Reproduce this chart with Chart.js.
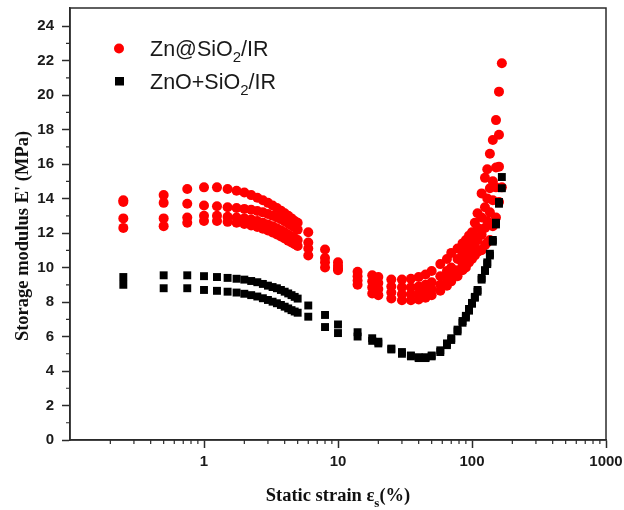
<!DOCTYPE html>
<html>
<head>
<meta charset="utf-8">
<script src="https://cdn.jsdelivr.net/npm/chart.js@4.4.0/dist/chart.umd.min.js"></script>
<style>
  html, body { margin: 0; padding: 0; background: #fff; }
</style>
</head>
<body>
<canvas id="myChart" width="624" height="510"></canvas>
<script>
"use strict";

// static strain (%) steps of the sweep
var strain = [0.25, 0.5, 0.75, 1, 1.25, 1.5, 1.75, 2, 2.25, 2.5, 2.75, 3, 3.25, 3.5, 3.75, 4, 4.25, 4.5, 4.75, 5,
    6, 8, 10, 14, 18, 20, 25, 30, 35, 40, 45, 50, 58, 65, 70, 78, 85, 90, 95, 100,
    105, 110, 118, 125, 130, 136, 143, 151, 159, 167];

// Zn@SiO2/IR, four sweeps (MPa)
var znA = [13.9, 14.2, 14.55, 14.65, 14.65, 14.55, 14.45, 14.35, 14.2, 14.05, 13.9, 13.75, 13.6, 13.45, 13.3, 13.15, 13.0, 12.85, 12.7, 12.6,
    12.05, 11.05, 10.3, 9.75, 9.55, 9.45, 9.3, 9.3, 9.35, 9.45, 9.6, 9.8, 10.2, 10.5, 10.85, 11.1, 11.4, 11.6, 11.85, 12.05,
    12.6, 13.15, 14.3, 15.2, 15.7, 16.6, 17.4, 18.55, 20.2, 21.85];
var znB = [13.8, 13.75, 13.7, 13.6, 13.55, 13.5, 13.45, 13.4, 13.35, 13.28, 13.2, 13.1, 13.0, 12.9, 12.8, 12.68, 12.56, 12.44, 12.32, 12.2,
    11.45, 10.55, 10.1, 9.5, 9.2, 9.1, 8.9, 8.85, 8.85, 8.9, 9.0, 9.15, 9.5, 9.8, 10.0, 10.5, 10.85, 11.0, 11.3, 11.6,
    11.8, 12.3, 12.9, 13.5, 14.0, 14.6, 15.0, 15.8, 17.7, null];
var znC = [12.85, 12.85, 12.9, 13.0, 13.0, 12.95, 12.9, 12.85, 12.78, 12.7, 12.6, 12.5, 12.4, 12.28, 12.16, 12.04, 11.92, 11.8, 11.7, 11.6,
    11.1, 10.3, 9.95, 9.25, 8.85, 8.75, 8.55, 8.45, 8.45, 8.5, 8.6, 8.75, 9.0, 9.3, 9.5, 9.85, 10.2, 10.5, 10.85, 11.0,
    11.3, 11.6, 11.9, 12.3, 12.7, 13.2, 13.9, 14.65, 15.85, null];
var znD = [12.3, 12.4, 12.6, 12.7, 12.7, 12.65, 12.6, 12.52, 12.44, 12.35, 12.25, 12.15, 12.03, 11.92, 11.8, 11.68, 11.56, 11.45, 11.35, 11.25,
    10.7, 10.0, 9.85, 9.0, 8.5, 8.4, 8.2, 8.1, 8.1, 8.15, 8.25, 8.4, 8.65, 8.95, 9.2, 9.5, 9.85, 10.0, 10.3, 10.5,
    10.7, 10.9, 11.0, 11.3, 11.45, 11.6, 12.4, 12.9, 13.8, 14.65];

// ZnO+SiO2/IR, two sweeps (MPa)
var znoA = [9.45, 9.55, 9.55, 9.5, 9.45, 9.4, 9.35, 9.3, 9.22, 9.15, 9.05, 8.95, 8.87, 8.8, 8.7, 8.6, 8.5, 8.4, 8.3, 8.2,
    7.8, 7.25, 6.7, 6.25, 5.9, 5.7, 5.3, 5.1, 4.9, 4.8, 4.8, 4.9, 5.2, 5.6, 5.9, 6.4, 6.9, 7.2, 7.6, 7.95,
    8.3, 8.7, 9.4, 9.85, 10.3, 10.8, 11.6, 12.6, 13.8, 15.25];
var znoB = [9.0, 8.8, 8.8, 8.7, 8.65, 8.6, 8.55, 8.48, 8.4, 8.32, 8.22, 8.12, 8.02, 7.93, 7.83, 7.73, 7.63, 7.53, 7.45, 7.38,
    7.15, 6.55, 6.2, 6.0, 5.75, 5.6, 5.25, 5.0, 4.85, 4.75, 4.75, 4.85, 5.1, 5.5, 5.8, 6.3, 6.8, 7.1, 7.5, 7.9,
    8.25, 8.6, 9.3, 9.8, 10.2, 10.7, 11.5, 12.5, 13.7, 14.6];

var xTicks = [1, 10, 100, 1000];
var xTickLabels = ['1', '10', '100', '1000'];
var yTicks = [0, 2, 4, 6, 8, 10, 12, 14, 16, 18, 20, 22, 24];
var yTickLabels = ['0', '2', '4', '6', '8', '10', '12', '14', '16', '18', '20', '22', '24'];

var legendLabels = [
    [['Zn@SiO', false], ['2', true], ['/IR', false]],
    [['ZnO+SiO', false], ['2', true], ['/IR', false]]
];
var xTitle = [['Static strain \u03b5', false], ['s', true], ['(%)', false]];
var yTitle = "Storage modulus E' (MPa)";

var RED = '#ff0000';
var BLACK = '#000000';
var AXIS = '#2b2b2b';

function points(xs, ys) {
    var out = [];
    for (var i = 0; i < xs.length; i++) {
        if (ys[i] !== null) out.push({ x: xs[i], y: ys[i] });
    }
    return out;
}

function redSet(values) {
    return {
        data: points(strain, values),
        pointStyle: 'circle',
        pointRadius: 5,
        pointBackgroundColor: RED,
        pointBorderColor: RED,
        pointBorderWidth: 0,
        showLine: false,
        order: 2
    };
}

function blackSet(values) {
    return {
        data: points(strain, values),
        pointStyle: 'rect',
        pointRadius: 5.6,
        pointBackgroundColor: BLACK,
        pointBorderColor: BLACK,
        pointBorderWidth: 0,
        showLine: false,
        order: 1
    };
}

// draws text runs, smaller and lowered for subscripts
function drawRuns(ctx, runs, x, y, size, weight, family) {
    ctx.textAlign = 'left';
    ctx.textBaseline = 'alphabetic';
    runs.forEach(function (r) {
        var s = r[1] ? Math.round(size * 0.68) : size;
        ctx.font = weight + ' ' + s + 'px ' + family;
        ctx.fillText(r[0], x, r[1] ? y + size * 0.3 : y);
        x += ctx.measureText(r[0]).width;
    });
}

function runsWidth(ctx, runs, size, weight, family) {
    var w = 0;
    runs.forEach(function (r) {
        var s = r[1] ? Math.round(size * 0.68) : size;
        ctx.font = weight + ' ' + s + 'px ' + family;
        w += ctx.measureText(r[0]).width;
    });
    return w;
}

var decor = {
    id: 'decor',
    afterDraw: function (chart) {
        var ctx = chart.ctx;
        var area = chart.chartArea;
        var xs = chart.scales.x;
        var ys = chart.scales.y;
        ctx.save();

        // frame
        ctx.strokeStyle = AXIS;
        ctx.lineWidth = 1.5;
        ctx.strokeRect(area.left, area.top, area.right - area.left, area.bottom - area.top);

        // minor ticks
        ctx.lineWidth = 1.2;
        ctx.beginPath();
        for (var v = 1; v < 25; v += 2) {
            var py = ys.getPixelForValue(v);
            ctx.moveTo(area.left - 4, py);
            ctx.lineTo(area.left, py);
        }
        [0.1, 1, 10, 100].forEach(function (d) {
            for (var m = 2; m <= 9; m++) {
                var px = xs.getPixelForValue(d * m);
                ctx.moveTo(px, area.bottom);
                ctx.lineTo(px, area.bottom + 4);
            }
        });
        ctx.stroke();

        // axis titles
        ctx.fillStyle = '#111';
        var serif = '"Liberation Serif", "Times New Roman", serif';
        var tw = runsWidth(ctx, xTitle, 18.5, 'bold', serif);
        drawRuns(ctx, xTitle, (area.left + area.right) / 2 - tw / 2, 501, 18.5, 'bold', serif);

        ctx.save();
        ctx.translate(28, 236);
        ctx.rotate(-Math.PI / 2);
        ctx.font = 'bold 18.5px ' + serif;
        ctx.textAlign = 'center';
        ctx.textBaseline = 'alphabetic';
        ctx.fillText(yTitle, 0, 0);
        ctx.restore();

        // legend
        var sans = '"Liberation Sans", Arial, sans-serif';
        ctx.fillStyle = RED;
        ctx.beginPath();
        ctx.arc(119, 48.5, 5, 0, Math.PI * 2);
        ctx.fill();
        ctx.fillStyle = BLACK;
        ctx.fillRect(115, 77, 9, 8.5);
        ctx.fillStyle = '#1a1a1a';
        drawRuns(ctx, legendLabels[0], 150, 56, 21.5, 'normal', sans);
        drawRuns(ctx, legendLabels[1], 150, 89, 21.5, 'normal', sans);

        ctx.restore();
    }
};

var ctx = document.getElementById('myChart');

var myChart = new Chart(ctx, {
    type: 'scatter',
    data: {
        datasets: [blackSet(znoA), blackSet(znoB), redSet(znA), redSet(znB), redSet(znC), redSet(znD)]
    },
    options: {
        responsive: false,
        animation: false,
        events: [],
        layout: { padding: { left: 0, top: 8, right: 18, bottom: 0 } },
        plugins: {
            legend: { display: false },
            tooltip: { enabled: false }
        },
        scales: {
            x: {
                type: 'logarithmic',
                min: 0.1,
                max: 1000,
                afterBuildTicks: function (axis) {
                    axis.ticks = xTicks.map(function (v) { return { value: v, major: true }; });
                },
                afterFit: function (axis) {
                    axis.height = 70;
                    axis.paddingLeft = 0;
                    axis.paddingRight = 0;
                },
                ticks: {
                    autoSkip: false,
                    maxRotation: 0,
                    padding: 5,
                    color: '#1a1a1a',
                    font: { family: '"Liberation Sans", Arial, sans-serif', size: 15, weight: 'bold' },
                    callback: function (value) {
                        var i = xTicks.indexOf(value);
                        return i >= 0 ? xTickLabels[i] : '';
                    }
                },
                grid: { drawOnChartArea: false, tickLength: 8, tickWidth: 1.5, tickColor: AXIS },
                border: { color: AXIS, width: 1.5 }
            },
            y: {
                min: 0,
                max: 25.05,
                afterBuildTicks: function (axis) {
                    axis.ticks = yTicks.map(function (v) { return { value: v }; });
                },
                afterFit: function (axis) {
                    axis.width = 70;
                    axis.paddingTop = 0;
                    axis.paddingBottom = 0;
                },
                ticks: {
                    padding: 8,
                    color: '#1a1a1a',
                    font: { family: '"Liberation Sans", Arial, sans-serif', size: 15, weight: 'bold' },
                    callback: function (value) {
                        var i = yTicks.indexOf(value);
                        return i >= 0 ? yTickLabels[i] : '';
                    }
                },
                grid: { drawOnChartArea: false, tickLength: 8, tickWidth: 1.5, tickColor: AXIS },
                border: { color: AXIS, width: 1.5 }
            }
        }
    },
    plugins: [decor]
});
</script>
</body>
</html>
